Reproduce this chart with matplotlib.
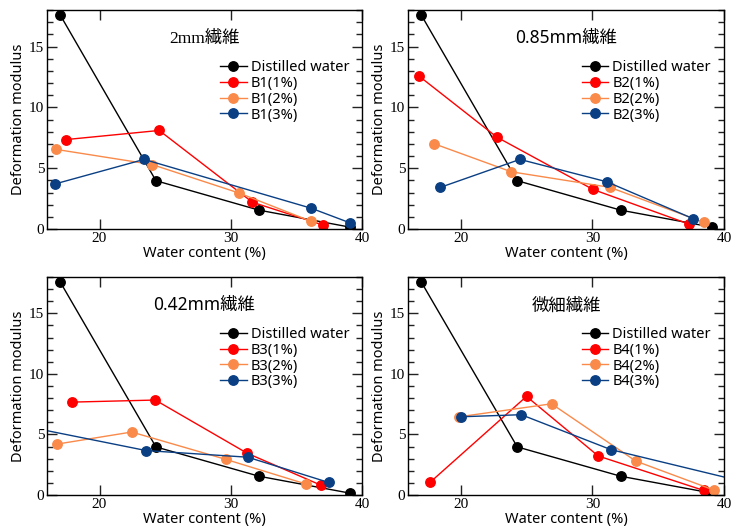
import numpy as np
import matplotlib
matplotlib.use('Agg')
import matplotlib.pyplot as plt
from matplotlib.ticker import MultipleLocator

# shared control series (distilled water)
dw_x = [17.0, 24.3, 32.15, 39.1]
dw_y = [17.6, 3.97, 1.55, 0.15]

# 2mm fibre
b1_1_x = [17.45, 24.55, 31.65, 37.05]
b1_1_y = [7.35, 8.1, 2.2, 0.32]
b1_2_x = [16.65, 24.0, 30.65, 36.15]
b1_2_y = [6.55, 5.3, 2.95, 0.62]
b1_3_x = [16.6, 23.4, 36.15, 39.05]
b1_3_y = [3.7, 5.72, 1.7, 0.52]

# 0.85mm fibre
b2_1_x = [16.8, 22.75, 30.05, 37.35]
b2_1_y = [12.6, 7.55, 3.25, 0.4]
b2_2_x = [18.0, 23.85, 31.35, 38.45]
b2_2_y = [7.0, 4.7, 3.42, 0.55]
b2_3_x = [18.45, 24.5, 31.1, 37.65]
b2_3_y = [3.42, 5.72, 3.88, 0.85]

# 0.42mm fibre
b3_1_x = [17.9, 24.25, 31.25, 36.85]
b3_1_y = [7.67, 7.84, 3.45, 0.82]
b3_2_x = [16.75, 22.45, 29.6, 35.75]
b3_2_y = [4.2, 5.2, 2.95, 0.9]
b3_3_x = [15.0, 23.55, 31.3, 37.45]
b3_3_y = [5.53, 3.67, 3.12, 1.04]

# fine fibre
b4_1_x = [17.7, 25.0, 30.45, 38.45]
b4_1_y = [1.07, 8.14, 3.22, 0.38]
b4_2_x = [19.9, 26.9, 33.3, 39.25]
b4_2_y = [6.46, 7.53, 2.8, 0.4]
b4_3_x = [20.05, 24.6, 31.4, 41.5]
b4_3_y = [6.46, 6.63, 3.75, 1.09]

titles = ['2mm繊維', '0.85mm繊維', '0.42mm繊維', '微細繊維']
prefixes = ['B1', 'B2', 'B3', 'B4']
pcts = ['1%', '2%', '3%']
series = [
    [(b1_1_x, b1_1_y), (b1_2_x, b1_2_y), (b1_3_x, b1_3_y)],
    [(b2_1_x, b2_1_y), (b2_2_x, b2_2_y), (b2_3_x, b2_3_y)],
    [(b3_1_x, b3_1_y), (b3_2_x, b3_2_y), (b3_3_x, b3_3_y)],
    [(b4_1_x, b4_1_y), (b4_2_x, b4_2_y), (b4_3_x, b4_3_y)],
]
colors = ['#ff0000', '#fa8a4a', '#0a3f84']

W, H = 738, 531
# axes boxes in pixels: left, right, top, bottom
boxes = [(47, 362, 10, 229), (408, 724, 10, 229),
         (47, 362, 277, 495), (408, 724, 277, 495)]

sans = ['Noto Sans', 'Noto Sans CJK JP']
serif = ['Liberation Serif']

fig = plt.figure(figsize=(W / 100, H / 100), dpi=100)

for i, (l, r, t, b) in enumerate(boxes):
    ax = fig.add_axes([l / W, 1 - b / H, (r - l) / W, (b - t) / H])
    ax.plot(dw_x, dw_y, color='black', lw=1, marker='o', ms=6.8,
            label='Distilled water')
    for (xs, ys), c, p in zip(series[i], colors, pcts):
        ax.plot(xs, ys, color=c, lw=1, marker='o', ms=6.8,
                label=f'{prefixes[i]}({p})')
    ax.set_xlim(16, 40)
    ax.set_ylim(0, 18)
    ax.xaxis.set_major_locator(MultipleLocator(10))
    ax.yaxis.set_major_locator(MultipleLocator(5))
    ax.yaxis.set_minor_locator(MultipleLocator(1))
    ax.tick_params(which='both', direction='in', top=True, right=True,
                   width=1, colors='#222222', labelcolor='black')
    ax.tick_params(which='major', length=7, labelsize=11, pad=2)
    ax.tick_params(which='minor', length=4.5)
    for lab in ax.get_xticklabels() + ax.get_yticklabels():
        lab.set_family(serif)
    for s in ax.spines.values():
        s.set_linewidth(1)
    ax.set_xlabel('Water content (%)', family=sans, fontsize=10.5, labelpad=1)
    ax.set_ylabel('Deformation modulus', family=sans, fontsize=10.5, labelpad=2)
    tfam = ['Liberation Serif', 'Noto Sans CJK JP'] if i == 0 else sans
    ax.text(0.5, 0.87, titles[i], transform=ax.transAxes, ha='center',
            va='center', family=tfam, fontsize=12.5)
    ax.legend(loc='upper left', bbox_to_anchor=(0.55, 0.77), frameon=False,
              prop={'family': sans, 'size': 10.5}, borderpad=0,
              borderaxespad=0, handlelength=1.8, handletextpad=0.3,
              labelspacing=0.05)

fig.savefig('out.png', dpi=100)
